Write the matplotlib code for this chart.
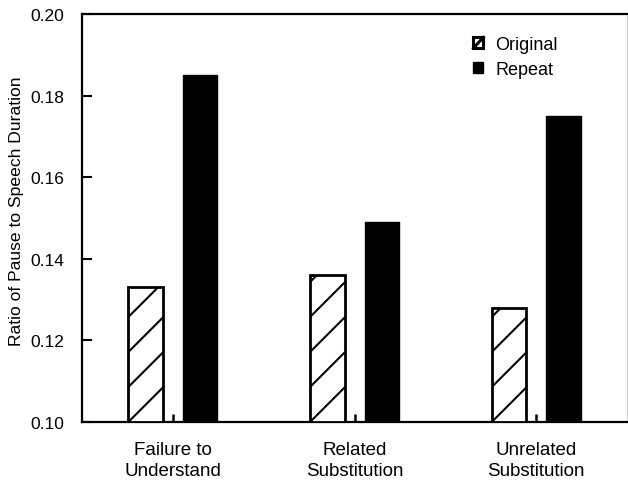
import matplotlib

matplotlib.use("Agg")
import matplotlib.pyplot as plt
import numpy as np
from matplotlib.legend_handler import HandlerBase
from matplotlib.lines import Line2D
from matplotlib.patches import Patch, Rectangle
from matplotlib.transforms import IdentityTransform

plt.rcParams["font.family"] = ["Liberation Sans", "DejaVu Sans"]

categories = ["Failure to\nUnderstand", "Related\nSubstitution", "Unrelated\nSubstitution"]
original = [0.133, 0.136, 0.128]
repeat = [0.185, 0.149, 0.175]
series_names = ["Original", "Repeat"]
y_ticks = [0.10, 0.12, 0.14, 0.16, 0.18, 0.20]


class HatchBoxHandler(HandlerBase):
    # small box with a single diagonal, like the printed legend key
    def create_artists(self, legend, orig_handle, xdescent, ydescent, width, height, fontsize, trans):
        box = Rectangle((-xdescent, -ydescent), width, height, facecolor="white",
                        edgecolor="black", linewidth=2.2, transform=trans)
        diag = Line2D([-xdescent, -xdescent + width], [-ydescent, -ydescent + height],
                      color="black", linewidth=2.2, transform=trans)
        return [box, diag]


fig = plt.figure(figsize=(6.28, 4.85), dpi=100)
ax = fig.add_axes([0.1306, 0.1278, 0.868, 0.841])

x = np.arange(len(categories))
width = 0.19
base = 0.10
bars_orig = ax.bar(x - 0.15, np.array(original) - base, width, bottom=base,
                   facecolor="white", edgecolor="black", linewidth=2.0, zorder=3)
bars_rep = ax.bar(x + 0.15, np.array(repeat) - base, width, bottom=base,
                  facecolor="black", edgecolor="black", linewidth=1.0, zorder=3)

ax.set_xlim(-0.5, 2.5)
ax.set_ylim(0.10, 0.20)
ax.set_yticks(y_ticks)
ax.set_yticklabels([f"{v:.2f}" for v in y_ticks])
ax.set_xticks(x)
ax.set_xticklabels(categories, fontsize=13.5, linespacing=1.3)
ax.tick_params(axis="y", direction="in", length=7, width=1.5, pad=13, labelsize=12.5)
ax.tick_params(axis="x", direction="in", length=6, width=1.8, pad=14)

for side in ["left", "bottom", "top"]:
    ax.spines[side].set_linewidth(1.6)
ax.spines["right"].set_linewidth(0.5)
ax.spines["right"].set_color("#bbbbbb")

# sparse diagonal hatch drawn by hand (matplotlib's hatch is too dense)
spacing = 35.0
for bar in bars_orig:
    (x0, y0), (x1, y1) = ax.transData.transform(
        [(bar.get_x(), bar.get_y()), (bar.get_x() + bar.get_width(), bar.get_y() + bar.get_height())])
    w = x1 - x0
    k = 0
    while y0 + k * spacing < y1:
        ys = y0 + k * spacing
        ln = Line2D([x0, x1], [ys, ys + w], transform=IdentityTransform(),
                    color="black", linewidth=1.5, zorder=4)
        ln.set_clip_path(bar)
        fig.add_artist(ln)
        k += 1

handles = [Patch(facecolor="white", edgecolor="black"),
           Patch(facecolor="black", edgecolor="black")]
ax.legend(handles, series_names, loc="upper left", bbox_to_anchor=(0.718, 0.946),
          frameon=False, fontsize=13, handlelength=0.55, handleheight=0.55,
          handletextpad=0.65, labelspacing=0.45, borderpad=0, borderaxespad=0,
          handler_map={handles[0]: HatchBoxHandler()})

fig.text(17 / 628, 1 - 211 / 485, "Ratio of Pause to Speech Duration",
         rotation=90, ha="center", va="center", fontsize=12.6)

fig.savefig("out.png", dpi=100)
